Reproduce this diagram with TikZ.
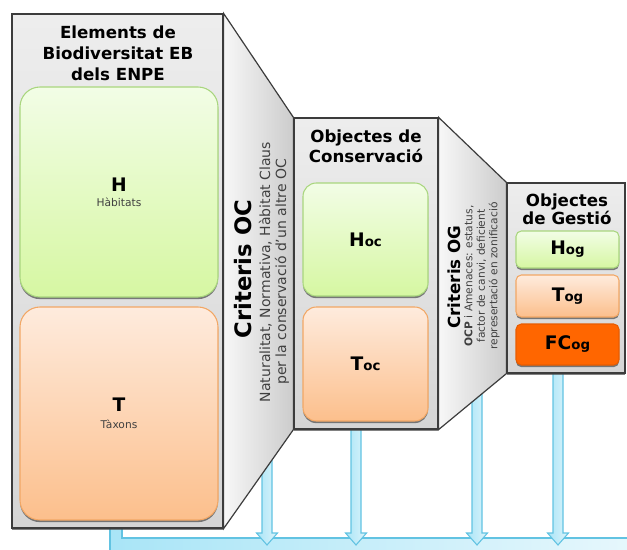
\documentclass[tikz,border=0pt]{standalone}
\usepackage{fontspec}
\setmainfont{DejaVu Sans}
\usetikzlibrary{shadows}
\definecolor{frame}{HTML}{3C3C3C}
\definecolor{hline}{HTML}{A9D67E}
\definecolor{htop}{HTML}{F2FDE6}
\definecolor{hbot}{HTML}{D6F7A2}
\definecolor{tline}{HTML}{F2A765}
\definecolor{ttop}{HTML}{FEEBDD}
\definecolor{tbot}{HTML}{FCBF8C}
\definecolor{fcfill}{HTML}{FF6600}
\definecolor{fcline}{HTML}{E85C00}
\definecolor{flowline}{HTML}{62C3E2}
\definecolor{flowA}{HTML}{A9E5F7}
\definecolor{flowB}{HTML}{DDF4FB}
\definecolor{note}{HTML}{404040}
\newcommand\pxu{0.75pt}
\tikzset{
  boxshadow/.style={drop shadow={shadow xshift=0pt,shadow yshift=-1.6pt,opacity=0.7,fill=black!70}},
  panel/.style={draw=frame,line width=0.9pt,top color=gray!14,bottom color=gray!33,boxshadow},
  wedge/.style={draw=frame,line width=0.9pt,left color=gray!6,right color=gray!40},
  hbox/.style={draw=hline,line width=0.8pt,top color=htop,bottom color=hbot,boxshadow},
  tbox/.style={draw=tline,line width=0.8pt,top color=ttop,bottom color=tbot,boxshadow},
  fcbox/.style={draw=fcline,line width=0.8pt,fill=fcfill,boxshadow},
  title/.style={align=center,font=\fontsize{12.5}{15.5}\selectfont\bfseries},
  big/.style={font=\fontsize{14}{14}\selectfont\bfseries},
  flow/.style={draw=flowline,line width=0.8pt,left color=flowA,right color=flowB},
  pipe/.style={draw=flowline,line width=0.8pt,left color=flowA,right color=flowB!70}
}
\begin{document}
\begin{tikzpicture}[x=0.75pt,y=-0.75pt]
\clip (0,0) rectangle (627,549);
\draw[pipe] (110,520) -- (122,520) -- (122,538) -- (640,538) -- (640,560) -- (110,560) -- cycle;
\foreach \x/\t in {267/440,356/420,477/380,558/365}
  \draw[flow] (\x-5,\t) -- (\x+5,\t) -- (\x+5,533) -- (\x+10.5,533) -- (\x,545) -- (\x-10.5,533) -- (\x-5,533) -- cycle;
\draw (117.5,271) node[panel,minimum width=211*\pxu,minimum height=514*\pxu] (eb) {};
\draw (366,273.5) node[panel,minimum width=144*\pxu,minimum height=311*\pxu] (oc) {};
\draw (566,278) node[panel,minimum width=118*\pxu,minimum height=190*\pxu] (og) {};
\draw[wedge] (eb.north east) -- (oc.north west) -- (oc.south west) -- (eb.south east) -- cycle;
\draw[wedge] (oc.north east) -- (og.north west) -- (og.south west) -- (oc.south east) -- cycle;
\draw (118,53) node[title,font=\fontsize{12.5}{15.75}\selectfont\bfseries] (ebtitle) {Elements de\\Biodiversitat EB\\dels ENPE};
\draw (119,192) node[hbox,rounded corners=15pt,minimum width=198*\pxu,minimum height=210*\pxu,align=center,font=\fontsize{8}{10}\selectfont] (h) {{\fontsize{14}{14}\selectfont\bfseries H}\\[1pt]{\color{note}Hàbitats}};
\draw (119,413.5) node[tbox,rounded corners=15pt,minimum width=198*\pxu,minimum height=213*\pxu,align=center,font=\fontsize{8}{10}\selectfont] (t) {{\fontsize{14}{14}\selectfont\bfseries T}\\[3pt]{\color{note}Tàxons}};
\draw (366,146) node[title,font=\fontsize{12.5}{15}\selectfont\bfseries] (octitle) {Objectes de\\Conservació};
\draw (365.5,239.5) node[hbox,rounded corners=10pt,minimum width=125*\pxu,minimum height=113*\pxu,big] (hoc) {H{\fontsize{10}{10}\selectfont oc}};
\draw (365.5,364) node[tbox,rounded corners=10pt,minimum width=125*\pxu,minimum height=114*\pxu,big] (toc) {T{\fontsize{10}{10}\selectfont oc}};
\draw (567,209) node[title,font=\fontsize{12.5}{13.5}\selectfont\bfseries] (ogtitle) {Objectes\\de Gestió};
\draw (567.5,249.5) node[hbox,rounded corners=4pt,minimum width=103*\pxu,minimum height=37*\pxu,big] (hog) {H{\fontsize{10}{10}\selectfont og}};
\draw (567.5,296) node[tbox,rounded corners=4pt,minimum width=103*\pxu,minimum height=42*\pxu,big] (tog) {T{\fontsize{10}{10}\selectfont og}};
\draw (567.5,344.5) node[fcbox,rounded corners=4pt,minimum width=103*\pxu,minimum height=41*\pxu,big] (fcog) {FC{\fontsize{10}{10}\selectfont og}};
\draw (243,269) node[rotate=90,font=\fontsize{17}{20}\selectfont\bfseries] (critoc) {Criteris OC};
\draw (274,272) node[rotate=90,align=center,text=note,font=\fontsize{10.5}{12}\selectfont] (critocnote) {Naturalitat, Normativa, Hàbitat Claus\\per la conservació d'un altre OC};
\draw (454,277) node[rotate=90,font=\fontsize{12.5}{14}\selectfont\bfseries] (critog) {Criteris OG};
\draw (482,276) node[rotate=90,align=center,text=note,font=\fontsize{8}{9.4}\selectfont] (critognote) {\textbf{OCP} i Amenaces: estatus,\\factor de canvi, deficient\\represertació en zonificació};
\end{tikzpicture}
\end{document}
